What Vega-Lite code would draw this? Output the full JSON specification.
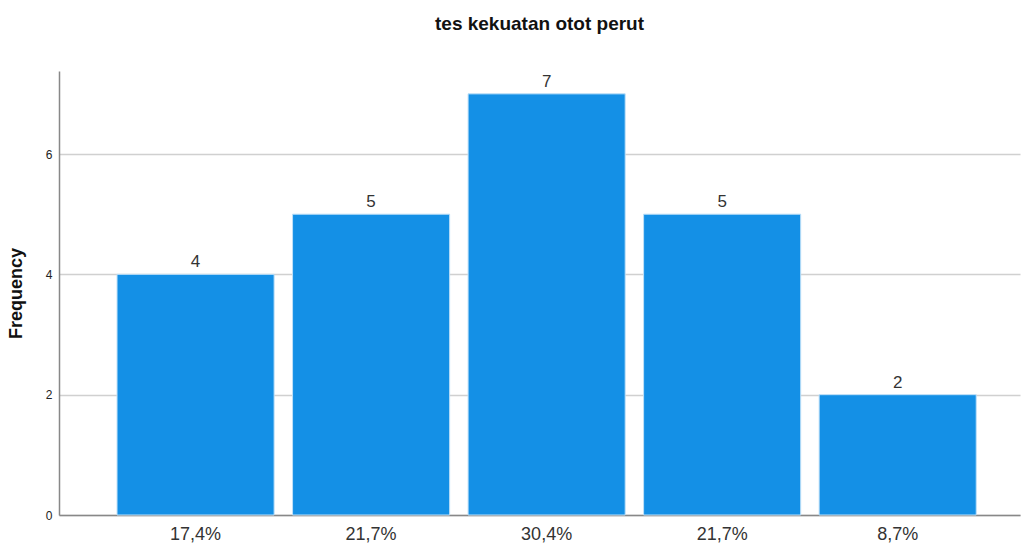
{
  "$schema": "https://vega.github.io/schema/vega-lite/v6.json",
  "autosize": "none",
  "width": 961,
  "height": 444,
  "padding": {"left": 59, "top": 71, "right": 2, "bottom": 28},
  "background": "white",
  "title": {
    "text": "tes kekuatan otot perut",
    "font": "Liberation Sans",
    "fontSize": 19,
    "fontWeight": "bold",
    "color": "#111111",
    "anchor": "middle",
    "offset": 37
  },
  "config": {"view": {"stroke": null}},
  "data": {
    "values": [
      {"idx": 1, "label": "17,4%", "count": 4},
      {"idx": 2, "label": "21,7%", "count": 5},
      {"idx": 3, "label": "30,4%", "count": 7},
      {"idx": 4, "label": "21,7%", "count": 5},
      {"idx": 5, "label": "8,7%", "count": 2}
    ]
  },
  "encoding": {
    "x": {
      "field": "idx",
      "type": "ordinal",
      "scale": {"paddingInner": 0.105, "paddingOuter": 0.29, "align": 0.57},
      "axis": {
        "title": null,
        "labelExpr": "['','17,4%','21,7%','30,4%','21,7%','8,7%'][datum.value]",
        "labelAngle": 0,
        "labelFont": "Liberation Sans",
        "labelFontSize": 18,
        "labelColor": "#333333",
        "labelPadding": 10,
        "ticks": false,
        "domainColor": "#888888",
        "domainWidth": 1.5,
        "grid": false
      }
    },
    "y": {
      "field": "count",
      "type": "quantitative",
      "scale": {"domain": [0, 7.38], "nice": false},
      "axis": {
        "title": "Frequency",
        "titleFont": "Liberation Sans",
        "titleFontSize": 18,
        "titleFontWeight": "bold",
        "titleColor": "#111111",
        "titlePadding": 20,
        "values": [0, 2, 4, 6],
        "labelFont": "Liberation Sans",
        "labelFontSize": 12,
        "labelColor": "#222222",
        "labelPadding": 7,
        "ticks": false,
        "domainColor": "#888888",
        "domainWidth": 1.5,
        "grid": true,
        "gridColor": "#d0d0d0",
        "gridWidth": 1.5
      }
    }
  },
  "layer": [
    {
      "mark": {"type": "bar", "color": "#1490e6", "stroke": "#bfe0f8", "strokeWidth": 1}
    },
    {
      "mark": {"type": "text", "baseline": "bottom", "dy": -3, "font": "Liberation Sans", "fontSize": 17, "color": "#333333"},
      "encoding": {"text": {"field": "count", "type": "quantitative"}}
    }
  ]
}
